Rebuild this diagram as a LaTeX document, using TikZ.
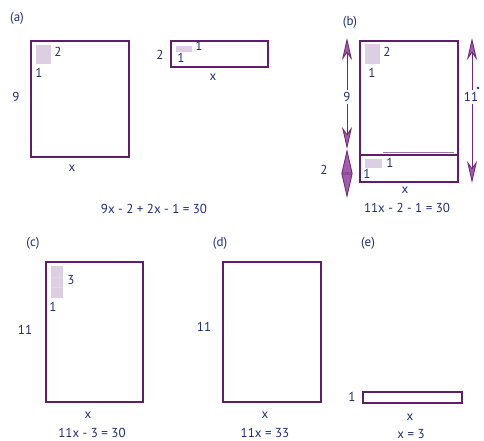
\documentclass[tikz,border=0pt]{standalone}
\usepackage{fontspec}
\setmainfont{PT Sans}
\usetikzlibrary{arrows.meta}
\definecolor{framec}{HTML}{5E1E6A}
\definecolor{ink}{HTML}{1D2E78}
\definecolor{tilec}{HTML}{DCCFE4}
\definecolor{arrowc}{HTML}{6E2A78}
\definecolor{arrowf}{HTML}{A45CAC}
\begin{document}
\begin{tikzpicture}[x=1pt,y=-1pt,
  box/.style={draw=framec, line width=2.8pt},
  lab/.style={text=ink, font=\fontsize{13}{15}\selectfont, inner sep=0.5pt},
  wlab/.style={lab, fill=white, inner sep=2pt},
  dimarrow/.style={draw=arrowc, line width=0.9pt,
     {Stealth[length=22pt,width=10pt,inset=7pt,fill=arrowf]}-{Stealth[length=22pt,width=10pt,inset=7pt,fill=arrowf]}},
  diamarrow/.style={draw=arrowc, line width=0.9pt,
     {Stealth[length=24.5pt,width=11pt,inset=0pt,fill=arrowf]}-{Stealth[length=24.5pt,width=11pt,inset=0pt,fill=arrowf]}}]
\useasboundingbox (0,0) rectangle (484,441);

% ---------- panel (a)
\node[lab] (pa) at (17,18) {(a)};
\draw[box] (31,41) rectangle (129,157);
\fill[tilec] (36,45) rectangle (51,64);
\node[lab] (a2) at (58,52) {2};
\node[lab] (a1) at (39,73) {1};
\node[lab] (a9) at (16,97) {9};
\node[lab] (ax) at (72,168) {x};
\draw[box] (171,41) rectangle (268,67);
\fill[tilec] (176,46) rectangle (192,52);
\node[lab] (a1b) at (199,46) {1};
\node[lab] (a1c) at (181,58) {1};
\node[lab] (a2b) at (160,55) {2};
\node[lab] (axb) at (213,77) {x};
\node[lab] (aeq) at (154,209) {9x - 2 + 2x - 1 = 30};

% ---------- panel (b)
\node[lab] (pb) at (350,22) {(b)};
\draw[box] (360,41) rectangle (458,182);
\draw[framec, line width=2pt] (360,155) -- (458,155);
\draw[framec!60, line width=0.6pt] (383,152.3) -- (454,152.3);
\fill[tilec] (365,44) rectangle (380,64);
\node[lab] (b2) at (387,52) {2};
\node[lab] (b1) at (372,73) {1};
\fill[tilec] (365,159) rectangle (382,168);
\node[lab] (b1b) at (390,163) {1};
\node[lab] (b1c) at (367,174) {1};
\coordinate (l9t) at (347,38);
\coordinate (l9b) at (347,149);
\coordinate (l2b) at (347,198);
\coordinate (r11t) at (472,38);
\coordinate (r11b) at (472,183);
\draw[dimarrow] (l9t) -- (l9b);
\draw[diamarrow] (l9b) -- (l2b);
\draw[dimarrow] (r11t) -- (r11b);
\node[wlab] (b9) at (347,97) {9};
\node[wlab] (b11) at (471,97) {11};
\fill[ink] (478,88) circle (1.3);
\node[lab] (b2l) at (324,170) {2};
\node[lab] (bx) at (405,190) {x};
\node[lab] (beq) at (407,208) {11x - 2 - 1 = 30};

% ---------- panel (c)
\node[lab] (pc) at (33,243) {(c)};
\draw[box] (46,262) rectangle (143,402);
\fill[tilec] (51,266) rectangle (63,298);
\draw[tilec!80!gray!60!white, line width=0.4pt] (51,276.7) -- (63,276.7) (51,287.3) -- (63,287.3);
\node[lab] (c3) at (71,280) {3};
\node[lab] (c1) at (53,307) {1};
\node[lab] (c11) at (25,330) {11};
\node[lab] (cx) at (88,415) {x};
\node[lab] (ceq) at (92,433) {11x - 3 = 30};

% ---------- panel (d)
\node[lab] (pd) at (220,243) {(d)};
\draw[box] (223,262) rectangle (321,402);
\node[lab] (d11) at (204,327) {11};
\node[lab] (dx) at (265,415) {x};
\node[lab] (deq) at (265,433) {11x = 33};

% ---------- panel (e)
\node[lab] (pe) at (368,243) {(e)};
\draw[box] (363,392) rectangle (462,403);
\node[lab] (e1) at (352,397) {1};
\node[lab] (ex) at (410,417) {x};
\node[lab] (eeq) at (411,434) {x = 3};
\end{tikzpicture}
\end{document}
